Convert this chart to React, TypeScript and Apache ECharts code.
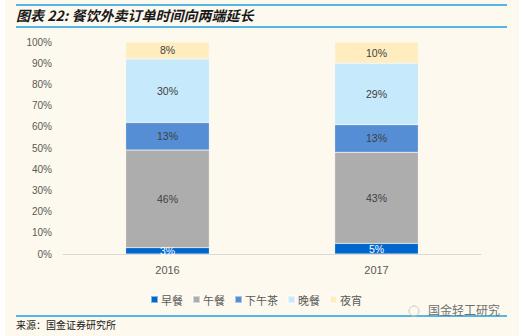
import React, { useEffect, useRef } from "react";
import * as echarts from "echarts";

const categories = ["2016", "2017"];
const seriesNames = ["早餐", "午餐", "下午茶", "晚餐", "夜宵"];
const breakfast = [3, 5];
const lunch = [46, 43];
const afternoonTea = [13, 13];
const dinner = [30, 29];
const lateNight = [8, 10];
const yTicks = [0, 10, 20, 30, 40, 50, 60, 70, 80, 90, 100];

const colors = ["#0066CC", "#ADADAD", "#558ED5", "#C6E9FB", "#FFEDC0"];
const labelColors = ["#FFFFFF", "#404040", "#404040", "#404040", "#404040"];

export default function App() {
  const ref = useRef<HTMLDivElement>(null);
  useEffect(() => {
    document.body.style.margin = "0";
    const chart = echarts.init(ref.current!, undefined, { renderer: "svg" });
    const data = [breakfast, lunch, afternoonTea, dinner, lateNight];
    const font = "'Noto Sans CJK SC', 'Liberation Sans', sans-serif";
    chart.setOption({
      animation: false,
      backgroundColor: "#FFFFFF",
      textStyle: { fontFamily: font },
      graphic: [
        { type: "rect", shape: { x: 5, y: 0, width: 514, height: 336 }, style: { fill: "#FEF9EE" }, silent: true, z: -10 },
        { type: "line", shape: { x1: 16, y1: 5, x2: 507, y2: 5 }, style: { stroke: "#1AA0E0", lineWidth: 1.5 } },
        { type: "line", shape: { x1: 16, y1: 27, x2: 507, y2: 27 }, style: { stroke: "#1AA0E0", lineWidth: 1.5 } },
        { type: "line", shape: { x1: 16, y1: 316, x2: 507, y2: 316 }, style: { stroke: "#1AA0E0", lineWidth: 1.5 } },
        {
          type: "text", x: 16, y: 8,
          style: { text: "图表 22: 餐饮外卖订单时间向两端延长", fontSize: 14, fontWeight: "bold", fontStyle: "italic", fill: "#1a1a1a", fontFamily: font },
        },
        {
          type: "text", x: 16, y: 319,
          style: { text: "来源：国金证券研究所", fontSize: 10, fill: "#1a1a1a", fontFamily: font },
        },
        { type: "circle", shape: { cx: 414, cy: 311, r: 5 }, style: { fill: "none", stroke: "#C8C8C8", lineWidth: 1 } },
        {
          type: "text", x: 428, y: 303,
          style: { text: "国金轻工研究", fontSize: 12, fill: "#707070", fontFamily: font },
        },
      ],
      grid: { left: 63, right: 38, top: 42, bottom: 82 },
      legend: {
        left: 145, top: 289,
        icon: "rect", itemWidth: 7, itemHeight: 7, itemGap: 9,
        textStyle: { fontSize: 11, color: "#595959", fontFamily: font, padding: [0, 0, 0, -2] },
        data: seriesNames,
      },
      xAxis: {
        type: "category",
        data: categories,
        axisLine: { lineStyle: { color: "#D9D9D9" } },
        axisTick: { show: false },
        axisLabel: { fontSize: 11, color: "#595959", margin: 10, fontFamily: "'Liberation Sans', sans-serif" },
      },
      yAxis: {
        type: "value",
        min: yTicks[0], max: yTicks[yTicks.length - 1], interval: 10,
        axisLine: { show: false },
        axisTick: { show: false },
        splitLine: { show: false },
        axisLabel: { fontSize: 10, color: "#595959", margin: 11, formatter: "{value}%", fontFamily: "'Liberation Sans', sans-serif" },
      },
      series: seriesNames.map((name, i) => ({
        name,
        type: "bar",
        stack: "total",
        barWidth: "40%",
        data: data[i],
        itemStyle: { color: colors[i], borderColor: "rgba(255,255,255,0.5)", borderWidth: 0.5 },
        label: {
          show: true, position: "inside", formatter: "{c}%",
          fontSize: 10.5, color: labelColors[i], fontFamily: "'Liberation Sans', sans-serif",
        },
      })),
    });
    return () => chart.dispose();
  }, []);
  return <div ref={ref} style={{ width: 519, height: 336 }} />;
}
